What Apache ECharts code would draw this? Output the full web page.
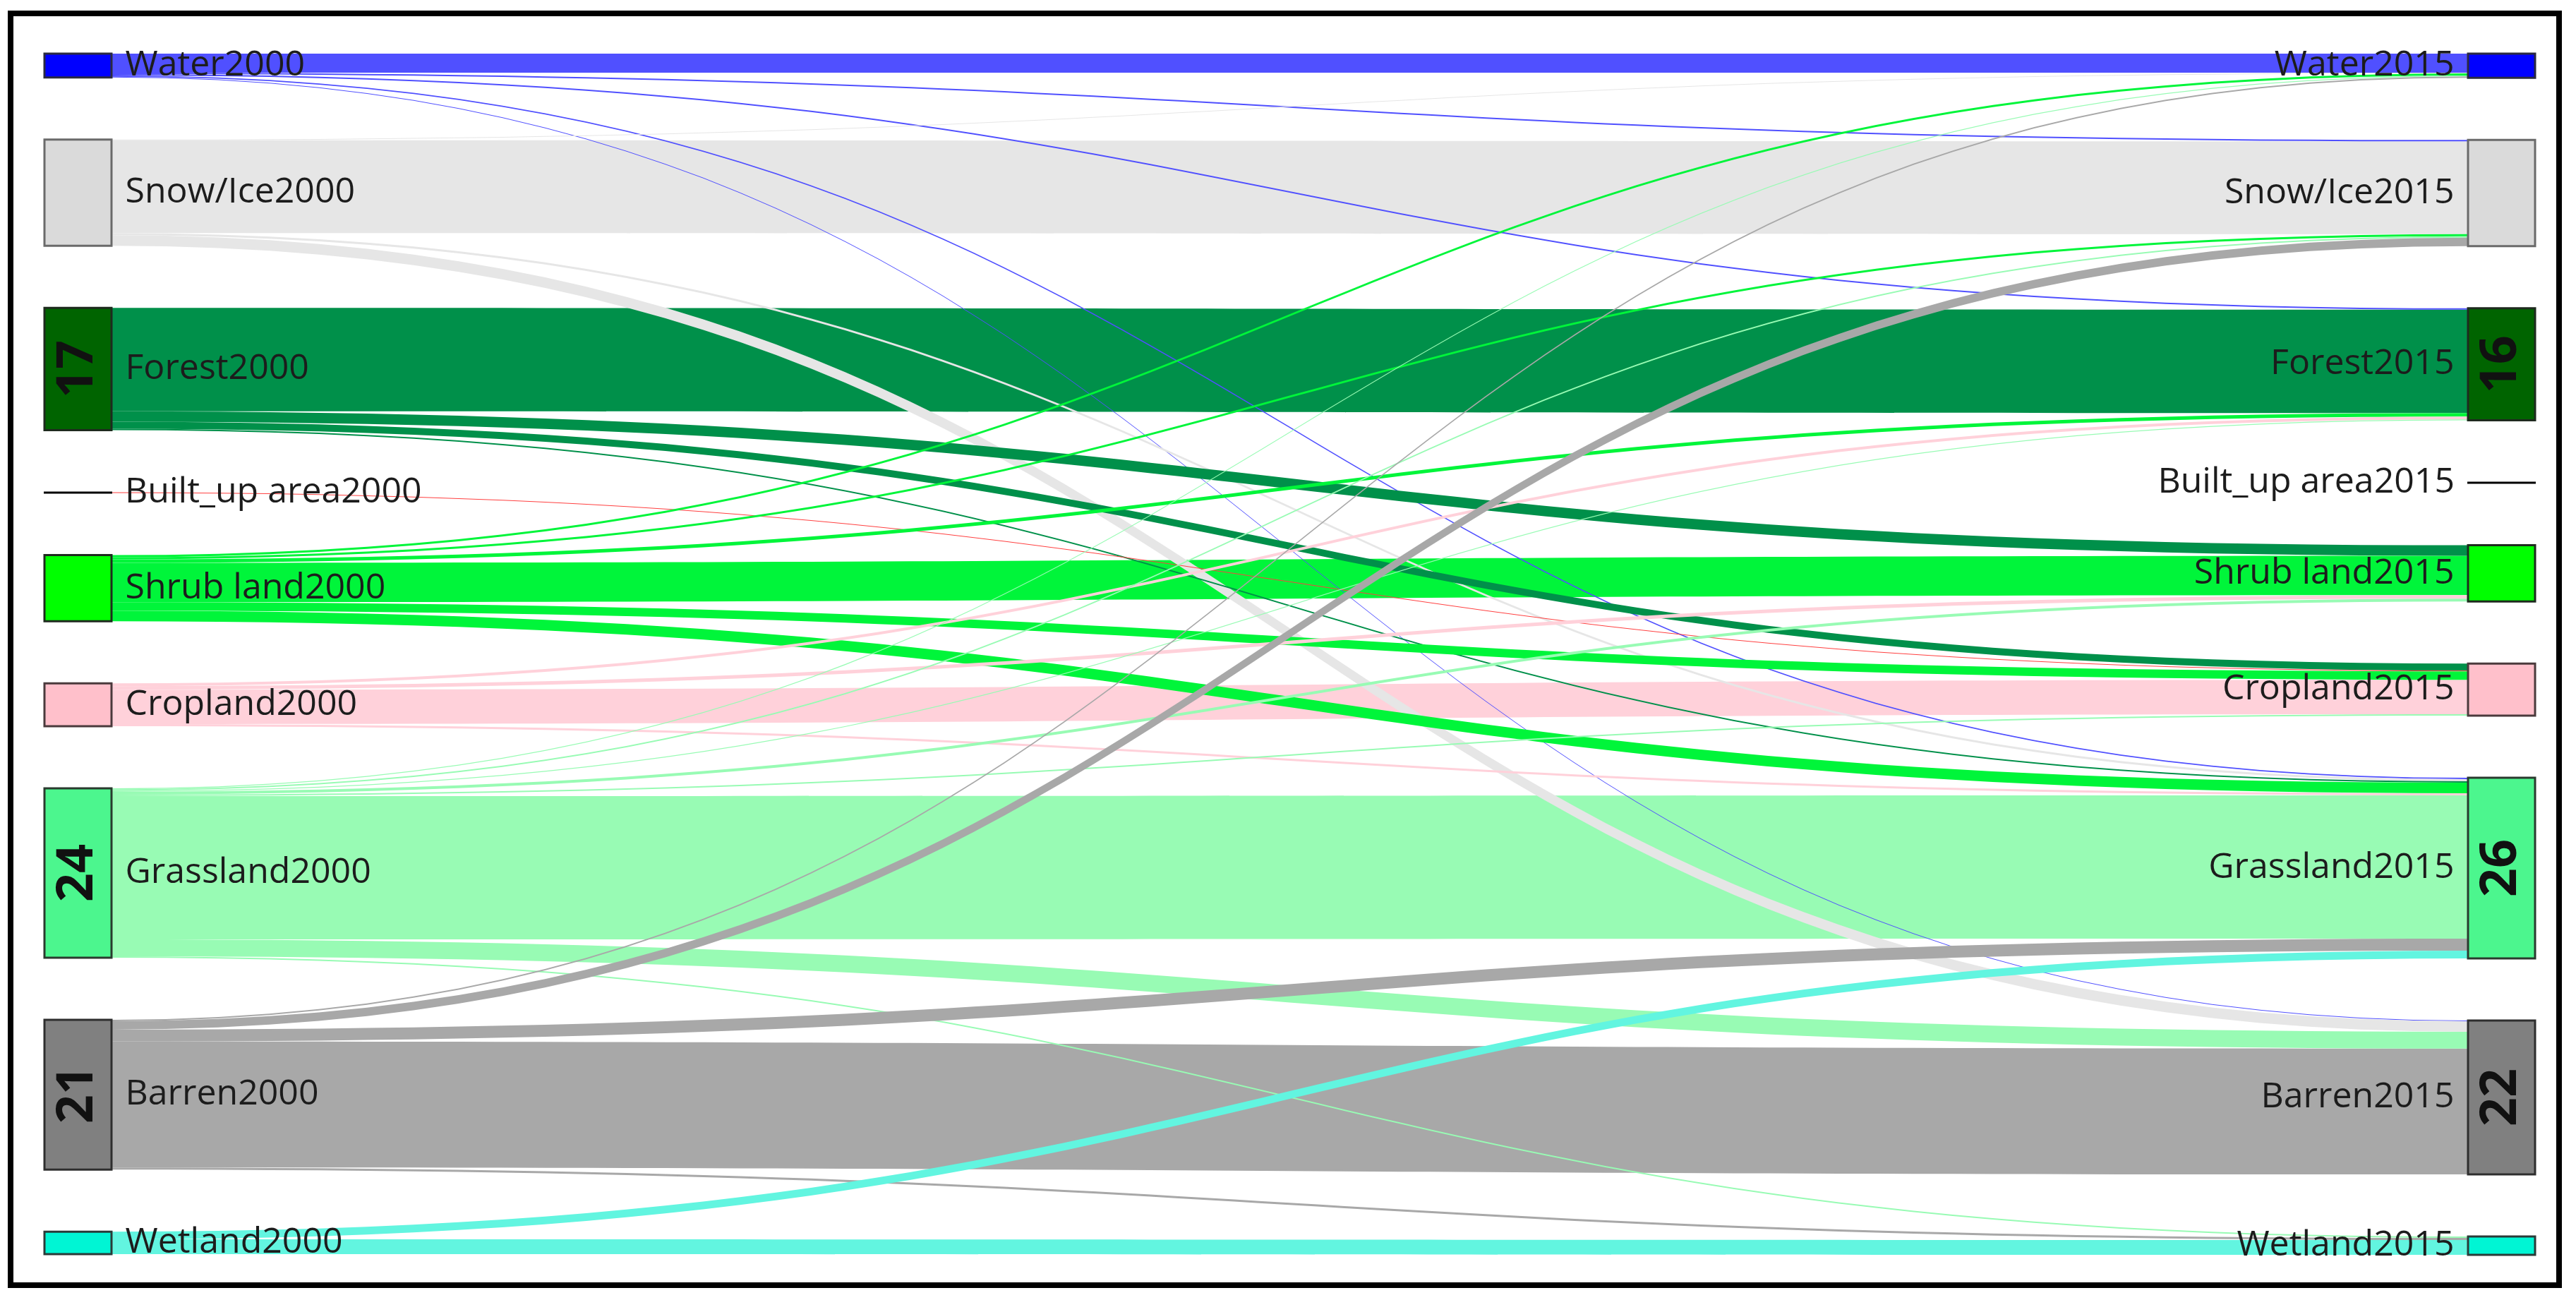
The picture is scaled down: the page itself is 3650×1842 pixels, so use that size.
<!DOCTYPE html>
<html>
<head>
<meta charset="utf-8">
<title>Land cover transitions 2000-2015</title>
<script src="https://cdn.jsdelivr.net/npm/echarts@6/dist/echarts.min.js"></script>
<style>
  html, body { margin: 0; padding: 0; background: #fff; }
  #chart { width: 3650px; height: 1842px; }
</style>
</head>
<body>
<div id="chart"></div>
<script>
// land cover classes, top to bottom
const categories = ['Water', 'Snow/Ice', 'Forest', 'Built_up area', 'Shrub land', 'Cropland', 'Grassland', 'Barren', 'Wetland'];
const years = ['2000', '2015'];

// share of area (%) going from a 2000 class to each 2015 class (same order as categories)
const fromWater    = [2.7, 0.2, 0.2, 0, 0, 0, 0.2, 0.1, 0];
const fromSnow     = [0.1, 13.2, 0, 0, 0, 0, 0.3, 1.5, 0];
const fromForest   = [0, 0, 14.7, 0, 1.5, 1.0, 0.2, 0, 0];
const fromBuiltUp  = [0, 0, 0, 0, 0, 0.1, 0, 0, 0];
const fromShrub    = [0.3, 0.3, 0.5, 0, 5.6, 1.2, 1.5, 0, 0];
const fromCropland = [0, 0, 0.4, 0, 0.5, 4.9, 0.3, 0, 0];
const fromGrass    = [0.15, 0.2, 0.15, 0, 0.4, 0.2, 20.4, 2.4, 0.2];
const fromBarren   = [0.2, 1.2, 0, 0, 0, 0, 1.7, 17.9, 0.3];
const fromWetland  = [0, 0, 0, 0, 0, 0, 1.1, 0, 2.1];
const transitions = [fromWater, fromSnow, fromForest, fromBuiltUp, fromShrub, fromCropland, fromGrass, fromBarren, fromWetland];

// built-up 2015 has no flows drawn, only its marker
const builtUp2015 = 0.1;

// numbers printed inside the big boxes
const boxNumbers2000 = ['', '', '17', '', '', '', '24', '21', ''];
const boxNumbers2015 = ['', '', '16', '', '', '', '26', '22', ''];

// colours per class: box fill, box border, flow colour
const palette = {
  'Water':         { node: '#0000ff', border: '#2a2a40', link: '#5050ff' },
  'Snow/Ice':      { node: '#dadada', border: '#6a6a6a', link: '#e6e6e6' },
  'Forest':        { node: '#006400', border: '#1e2a1e', link: '#00904a' },
  'Built_up area': { node: '#000000', border: '#000000', link: '#ff4040' },
  'Shrub land':    { node: '#00ff00', border: '#1e2a1e', link: '#00f53a' },
  'Cropland':      { node: '#ffc0cb', border: '#4a3a3c', link: '#ffd1da' },
  'Grassland':     { node: '#4cf68e', border: '#2a3a2e', link: '#98fbb4' },
  'Barren':        { node: '#808080', border: '#2e2e2e', link: '#a8a8a8' },
  'Wetland':       { node: '#00f5d4', border: '#2a3a38', link: '#62f5e0' }
};

const boxNumbers = {};
categories.forEach((cat, i) => {
  boxNumbers[cat + years[0]] = boxNumbers2000[i];
  boxNumbers[cat + years[1]] = boxNumbers2015[i];
});

function buildNodes(withStyle) {
  const nodes = [];
  years.forEach((year, depth) => {
    categories.forEach((cat) => {
      const st = palette[cat];
      const node = { name: cat + year, depth: depth };
      if (cat === 'Built_up area' && depth === 1) node.value = builtUp2015;
      if (withStyle) {
        node.itemStyle = {
          color: st.node,
          borderColor: st.border,
          borderWidth: cat === 'Built_up area' ? 2 : 3
        };
        node.label = { position: depth === 0 ? 'right' : 'left' };
      }
      nodes.push(node);
    });
  });
  return nodes;
}

// unchanged classes are drawn first, the changes go on top of them
function buildLinks(withStyle) {
  const stay = [];
  const change = [];
  transitions.forEach((row, i) => {
    row.forEach((v, j) => {
      if (v <= 0) return;
      const link = {
        source: categories[i] + years[0],
        target: categories[j] + years[1],
        value: v
      };
      if (withStyle) link.lineStyle = { color: palette[categories[i]].link };
      (i === j ? stay : change).push(link);
    });
  });
  return stay.concat(change);
}

const layoutBox = {
  left: 63, right: 58, top: 76, bottom: 64,
  nodeWidth: 95, nodeGap: 88,
  layoutIterations: 0,
  nodeAlign: 'justify',
  draggable: false
};

const chart = echarts.init(document.getElementById('chart'));
chart.setOption({
  backgroundColor: '#ffffff',
  animation: false,
  graphic: [{
    type: 'rect',
    shape: { x: 15, y: 19, width: 3611, height: 1802 },
    style: { fill: 'none', stroke: '#000', lineWidth: 8 },
    z: 100
  }],
  series: [
    Object.assign({
      type: 'sankey',
      data: buildNodes(true),
      links: buildLinks(true),
      lineStyle: { opacity: 1, curveness: 0.5 },
      label: {
        fontFamily: 'Open Sans',
        fontSize: 50,
        color: '#1c1c1c',
        distance: 18
      },
      emphasis: { disabled: true }
    }, layoutBox),
    // second pass only for the rotated numbers inside the boxes
    Object.assign({
      type: 'sankey',
      silent: true,
      z: 3,
      data: buildNodes(false),
      links: buildLinks(false),
      itemStyle: { color: 'rgba(0,0,0,0)', borderWidth: 0 },
      lineStyle: { color: 'rgba(0,0,0,0)', opacity: 0 },
      label: {
        position: 'inside',
        rotate: 90,
        fontFamily: 'Open Sans',
        fontWeight: 'bold',
        fontSize: 72,
        color: '#111',
        formatter: (p) => boxNumbers[p.name] || ''
      },
      emphasis: { disabled: true }
    }, layoutBox)
  ]
});
</script>
</body>
</html>
